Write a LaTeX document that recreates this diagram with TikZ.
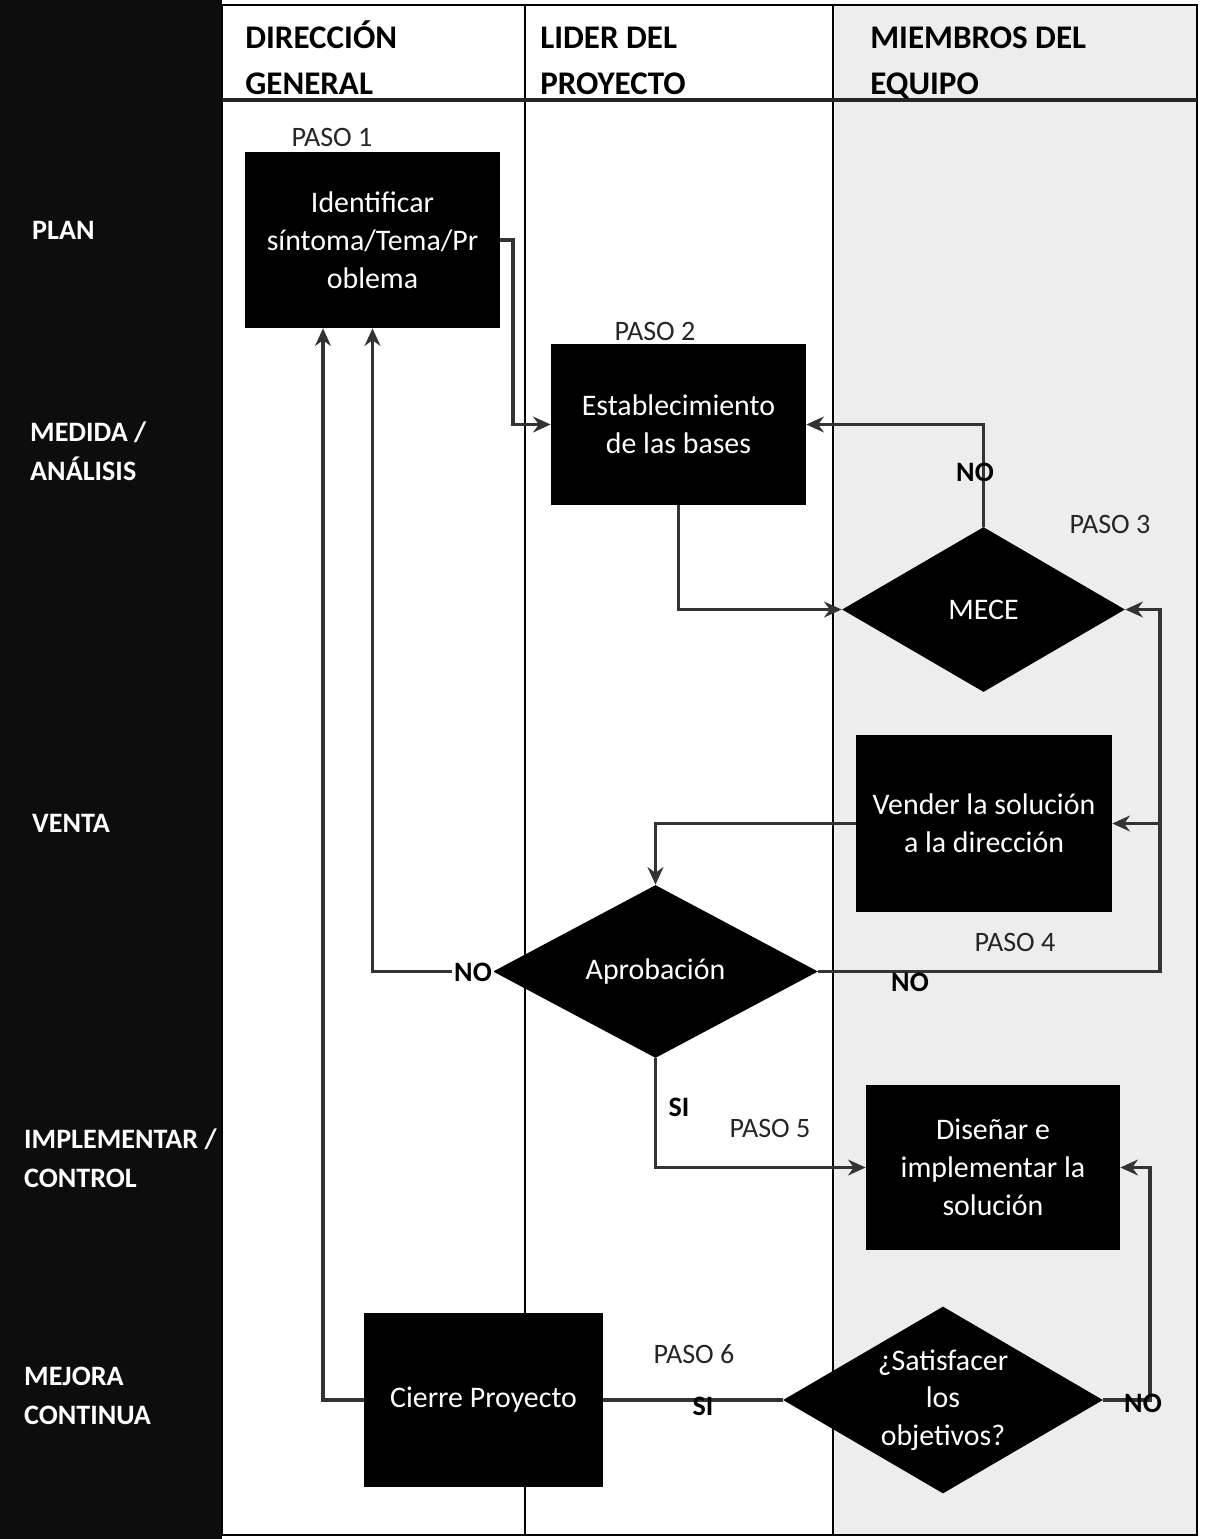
\documentclass[tikz,border=0pt]{standalone}
\usepackage{fontspec}
\setmainfont{Carlito}
\usetikzlibrary{shapes.geometric,arrows.meta,calc}
\begin{document}
\begin{tikzpicture}[x=0.02cm,y=-0.02cm,
  conn/.style={draw=black!80, line width=1.8pt},
  arr/.style={conn, -{Stealth[length=10pt,width=9pt]}},
  stepbox/.style={rectangle, fill=black, draw=none, inner sep=0pt, text=white, align=center,
    font=\fontsize{17}{21.5}\selectfont},
  decision/.style={diamond, fill=black, draw=none, inner sep=0pt},
  dtext/.style={text=white, align=center, font=\fontsize{17}{21.5}\selectfont},
  steplabel/.style={text=black!85, font=\fontsize{16}{19}\selectfont},
  branch/.style={text=black, font=\bfseries\fontsize{16}{19}\selectfont, inner sep=1pt},
  lanehead/.style={anchor=base west, inner sep=0pt, text=black, font=\bfseries\fontsize{18.8}{25.5}\selectfont},
  rowhead/.style={anchor=west, align=left, text=white, font=\bfseries\fontsize{16}{22}\selectfont},
  lane/.style={draw=black, line width=1.1pt}]

\useasboundingbox (0,0) rectangle (1206,1539);

% background: phase band, lanes
\fill[white] (0,0) rectangle (1206,1539);
\fill[black!95] (0,0) rectangle (222,1539);
\fill[black!7] (833,5) rectangle (1197,1535);

% lane frame and dividers
\draw[lane] (222,5) rectangle (1197,1535);
\draw[lane] (525,5) -- (525,1535);
\draw[lane] (833,5) -- (833,1535);
\draw[black!85, line width=2.2pt] (222,100) -- (1197,100);

% lane headers, one node per line on common baselines
\node[lanehead] (hdg1) at (245,48) {DIRECCIÓN};
\node[lanehead] (hdg2) at (245,94) {GENERAL};
\node[lanehead] (hlp1) at (540,48) {LIDER DEL};
\node[lanehead] (hlp2) at (540,94) {PROYECTO};
\node[lanehead] (hme1) at (870,48) {MIEMBROS DEL};
\node[lanehead] (hme2) at (870,94) {EQUIPO};

% phase labels
\node[rowhead] (rplan) at (26,230) {PLAN};
\node[rowhead] (rmed) at (24,451) {MEDIDA /\\ANÁLISIS};
\node[rowhead] (rven) at (26,823) {VENTA};
\node[rowhead] (rimp) at (18,1158) {IMPLEMENTAR /\\CONTROL};
\node[rowhead] (rmej) at (18,1396) {MEJORA\\CONTINUA};

% process steps
\node[stepbox, minimum width=5.1cm, minimum height=3.52cm] (ident) at (372.5,240)
  {Identificar\\síntoma/Tema/Pr\\oblema};
\node[stepbox, minimum width=5.1cm, minimum height=3.22cm] (bases) at (678.5,424.5)
  {Establecimiento\\de las bases};
\node[decision, minimum width=5.66cm, minimum height=3.3cm] (mece) at (983.5,609.5) {};
\node[dtext] (mecet) at (mece) {MECE};
\node[stepbox, minimum width=5.12cm, minimum height=3.54cm] (vender) at (984,823.5)
  {Vender la solución\\a la dirección};
\node[decision, minimum width=6.5cm, minimum height=3.46cm] (aprob) at (655.5,971.5) {};
\node[dtext] (aprobt) at (aprob) {Aprobación};
\node[stepbox, minimum width=5.08cm, minimum height=3.3cm] (disenar) at (993,1167.5)
  {Diseñar e\\implementar la\\solución};
\node[stepbox, minimum width=4.78cm, minimum height=3.48cm] (cierre) at (483.5,1400)
  {Cierre Proyecto};
\node[decision, minimum width=6.4cm, minimum height=3.74cm] (satis) at (943,1400) {};
\node[dtext] (satist) at (satis) {¿Satisfacer\\los\\objetivos?};

% step labels
\node[steplabel] (p1) at (332,137) {PASO 1};
\node[steplabel] (p2) at (655,331) {PASO 2};
\node[steplabel] (p3) at (1110,524) {PASO 3};
\node[steplabel] (p4) at (1015,942) {PASO 4};
\node[steplabel] (p5) at (770,1128) {PASO 5};
\node[steplabel] (p6) at (694,1354) {PASO 6};

% routing columns for the return paths
\coordinate (rA) at (1160,0);
\coordinate (rB) at (1150,0);
\coordinate (lA) at (323,0);
\coordinate (jA) at (513,0);

% connectors
\draw[arr] (ident.east) -- (ident.east -| jA) |- (bases.west);
\draw[arr] (bases.south) |- (mece.west);
\draw[arr] (mece.north) |- (bases.east);
\draw[arr] (vender.west) -| (aprob.north);
\draw[arr] (aprob.east) -- (aprob.east -| rA) |- (mece.east);
\draw[arr] (vender.east -| rA) -- (vender.east);
\draw[arr] (aprob.west) -| (ident.south);
\draw[arr] (aprob.south) |- (disenar.west);
\draw[arr] (satis.east) -- (satis.east -| rB) |- (disenar.east);
\draw[conn] (satis.west) -- (cierre.east);
\draw[arr] (cierre.west) -| (lA |- ident.south);

% branch labels
\node[branch] (no1) at (975,472) {NO};
\node[branch] (no2) at (910,982) {NO};
\node[branch, fill=white] (no3) at (473,972) {NO};
\node[branch] (si1) at (679,1107) {SI};
\node[branch] (si2) at (703,1406) {SI};
\node[branch] (no4) at (1143,1403) {NO};

\end{tikzpicture}
\end{document}
